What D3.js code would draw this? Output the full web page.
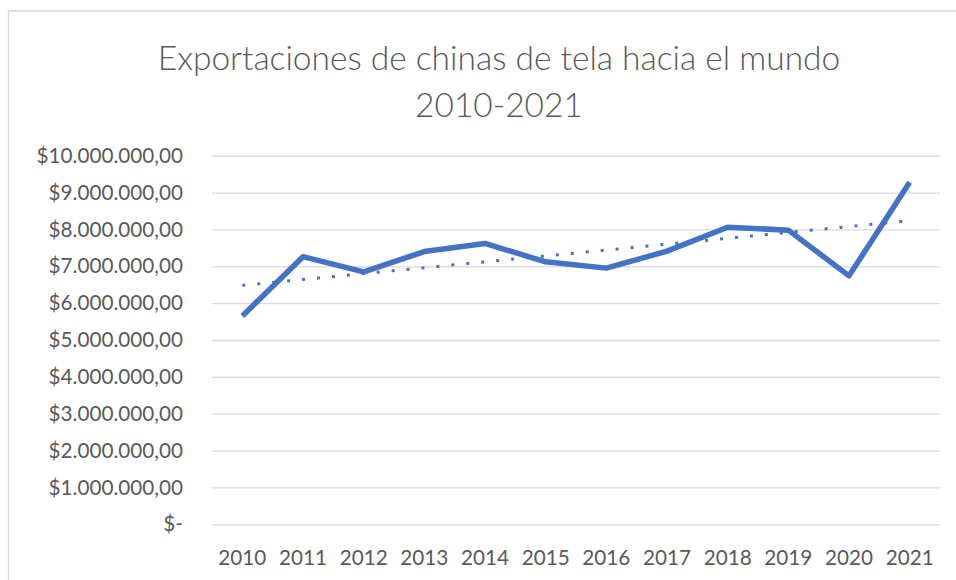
<!DOCTYPE html>
<html>
<head>
<meta charset="utf-8">
<script src="https://cdnjs.cloudflare.com/ajax/libs/d3/7.8.5/d3.min.js"></script>
<style>
  body { margin: 0; background: #fff; font-family: Lato, "Open Sans", sans-serif; }
  svg { display: block; }
</style>
</head>
<body>
<div class="graph"></div>
<script>
const width = 956;
const height = 580;
const padding = { left: 212, top: 155.7, right: 16, bottom: 55.7 };

// data
const years = ['2010', '2011', '2012', '2013', '2014', '2015', '2016', '2017', '2018', '2019', '2020', '2021'];
const exportsValues = [5650000, 7260000, 6850000, 7400000, 7620000, 7120000, 6950000, 7410000, 8060000, 7980000, 6740000, 9280000];
const yTicks = [0, 1000000, 2000000, 3000000, 4000000, 5000000, 6000000, 7000000, 8000000, 9000000, 10000000];
const titleLines = ['Exportaciones de chinas de tela hacia el mundo', '2010-2021'];

const blue = '#4472C4';
const grey = '#595959';

let svg = d3.select('.graph').append('svg')
  .attr('width', width)
  .attr('height', height);

// chart frame (runs off the right and bottom)
svg.append('rect')
  .attr('x', 8.5)
  .attr('y', 11)
  .attr('width', 1000)
  .attr('height', 1000)
  .attr('fill', 'none')
  .attr('stroke', '#d9d9d9')
  .attr('stroke-width', 1.5);

let x = d3.scaleBand()
  .domain(years)
  .range([padding.left, width - padding.right]);

let y = d3.scaleLinear()
  .domain([0, 10000000])
  .range([height - padding.bottom, padding.top]);

// es-style money format: $10.000.000,00
let money = (v) => {
  if (v === 0) return '$-';
  let s = d3.format(',.2f')(v);
  return '$' + s.replace(/,/g, '#').replace('.', ',').replace(/#/g, '.');
};

/* gridlines and y labels */
let yAxis = d3.axisLeft(y)
  .tickValues(yTicks)
  .tickSize(-(width - padding.left - padding.right))
  .tickPadding(29)
  .tickFormat(money);

let gy = svg.append('g')
  .attr('transform', 'translate(' + padding.left + ',0)')
  .call(yAxis);
gy.select('.domain').remove();
gy.selectAll('line').attr('stroke', '#d9d9d9').attr('stroke-width', 1.3);
gy.selectAll('text')
  .attr('fill', grey)
  .style('font-family', 'Lato, sans-serif')
  .style('font-size', '20.7px');

/* x labels */
let xAxis = d3.axisBottom(x).tickSize(0).tickPadding(26);
let gx = svg.append('g')
  .attr('transform', 'translate(0,' + (height - padding.bottom) + ')')
  .call(xAxis);
gx.select('.domain').remove();
gx.selectAll('text')
  .attr('fill', grey)
  .style('font-family', 'Lato, sans-serif')
  .style('font-size', '20.7px');

/* linear trendline (least squares over the series) */
let n = exportsValues.length;
let xMean = (n - 1) / 2;
let yMean = d3.mean(exportsValues);
let sxy = d3.sum(exportsValues, (v, i) => (i - xMean) * (v - yMean));
let sxx = d3.sum(exportsValues, (v, i) => (i - xMean) * (i - xMean));
let slope = sxy / sxx;
let trend = years.map((yr, i) => ({ year: yr, value: yMean + slope * (i - xMean) }));

let cx = (yr) => x(yr) + x.bandwidth() / 2;

svg.append('path')
  .datum(trend)
  .attr('fill', 'none')
  .attr('stroke', blue)
  .attr('stroke-width', 3)
  .attr('stroke-dasharray', '3,12')
  .attr('d', d3.line().x((d) => cx(d.year)).y((d) => y(d.value)));

/* main series */
let series = years.map((yr, i) => ({ year: yr, value: exportsValues[i] }));
svg.append('path')
  .datum(series)
  .attr('fill', 'none')
  .attr('stroke', blue)
  .attr('stroke-width', 5.5)
  .attr('stroke-linejoin', 'round')
  .attr('d', d3.line().x((d) => cx(d.year)).y((d) => y(d.value)));

/* title */
svg.append('g')
  .selectAll('text')
  .data(titleLines)
  .enter().append('text')
  .attr('x', 499)
  .attr('y', (d, i) => 70 + i * 47)
  .attr('text-anchor', 'middle')
  .attr('fill', grey)
  .style('font-family', 'Lato, sans-serif')
  .style('font-weight', 300)
  .style('font-size', '33.5px')
  .text((d) => d);
</script>
</body>
</html>
